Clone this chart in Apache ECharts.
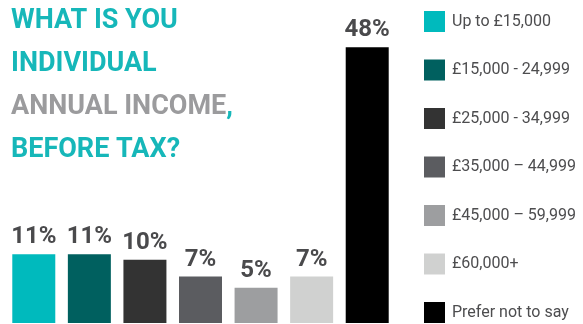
<!DOCTYPE html>
<html lang="en">
	<head>
		<meta charset="UTF-8"/>
		<title></title>
		<script src="https://cdn.jsdelivr.net/npm/echarts@6/dist/echarts.min.js"></script>
		<style>
			html, body { margin: 0; padding: 0; background: #fff; }
		</style>
	</head>
	<body>
		<div id="main" style="width: 583px;height: 324px;"></div>
		<script type="text/javascript">
			var categories = ['Up to £15,000', '£15,000 - 24,999', '£25,000 - 34,999', '£35,000 – 44,999', '£45,000 – 59,999', '£60,000+', 'Prefer not to say'];
			var values = [11, 11, 10, 7, 5, 7, 48];
			var colors = ['#00babd', '#00605f', '#333333', '#5b5c60', '#9d9ea0', '#d0d1d0', '#000000'];

			var myChart = echarts.init(document.getElementById('main'));

			// one series per category so the legend can list each bar
			var series = categories.map(function (name, i) {
				var d = values.map(function (v, j) { return j === i ? v : '-'; });
				return {
					name: name,
					type: 'bar',
					data: d,
					barWidth: 43,
					barGap: '-100%',
					itemStyle: { color: colors[i] },
					label: {
						show: true,
						position: 'top',
						distance: 5,
						formatter: '{c}%',
						color: '#4a4a4c',
						fontFamily: 'Roboto',
						fontWeight: 'bold',
						fontSize: 24
					}
				};
			});

			var option = {
				backgroundColor: '#fff',
				animation: false,
				title: {
					text: '{a|WHAT IS YOU}\n{a|INDIVIDUAL}\n{b|ANNUAL INCOME}{a|,}\n{a|BEFORE TAX?}',
					left: 11,
					top: 0,
					padding: 0,
					textStyle: {
						lineHeight: 43,
						rich: {
							a: { color: '#16b7b9', fontFamily: 'Roboto', fontWeight: 'bold', fontSize: 27, lineHeight: 43 },
							b: { color: '#9b9b9d', fontFamily: 'Roboto', fontWeight: 'bold', fontSize: 27, lineHeight: 43 }
						}
					}
				},
				legend: {
					orient: 'vertical',
					left: 424,
					top: 11,
					padding: 0,
					icon: 'rect',
					itemWidth: 21,
					itemHeight: 21,
					itemGap: 27.5,
					selectedMode: false,
					data: categories,
					textStyle: {
						color: '#4d4d4f',
						fontFamily: 'Roboto',
						fontSize: 16,
						padding: [0, 0, 0, 2]
					}
				},
				grid: { left: 6, width: 389, top: 36, bottom: 1 },
				xAxis: {
					type: 'category',
					data: categories,
					show: false
				},
				yAxis: {
					type: 'value',
					min: -1.3,
					max: 50,
					startValue: -1.3,
					show: false
				},
				series: series
			};

			myChart.setOption(option);
		</script>
	</body>
</html>
